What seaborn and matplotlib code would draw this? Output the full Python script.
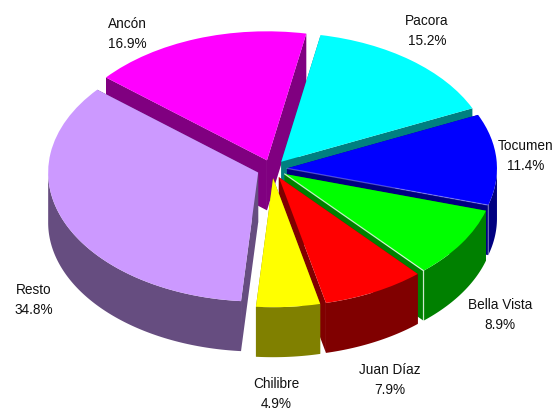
import numpy as np
import matplotlib
matplotlib.use("Agg")
import matplotlib.pyplot as plt
import seaborn as sns
from matplotlib.patches import Polygon

# DATA
names = ["Pacora", "Tocumen", "Bella Vista", "Juan Díaz", "Chilibre", "Resto", "Ancón"]
shares = [15.2, 11.4, 8.9, 7.9, 4.9, 34.8, 16.9]
top_hex = ["#00FFFF", "#0000FF", "#00FF00", "#FF0000", "#FFFF00", "#CC99FF", "#FF00FF"]

# back to front, later slices sit on top of earlier ones
draw_order = ["Ancón", "Pacora", "Resto", "Tocumen", "Bella Vista", "Juan Díaz", "Chilibre"]

# label positions in pixels: centre x, baseline of the name
label_px = {
    "Pacora": (427, 25), "Tocumen": (526, 150), "Bella Vista": (500, 309),
    "Juan Díaz": (390, 374), "Chilibre": (276, 388), "Resto": (34, 294), "Ancón": (127, 28),
}
LINE_GAP = 20

# pale highlight on the front corner of these slices
pale_edge = {"Bella Vista": 0.75, "Tocumen": 0.3}

W, H = 553, 411
CX, CY = 272, 169   # pie centre
RX, RY = 210, 129   # ellipse radii
DEPTH = 50 / RY     # wall height in y units

sns.set_theme(style="white")
plt.rcParams["font.family"] = ["Liberation Sans", "DejaVu Sans"]

palette = sns.color_palette(top_hex)
fig, ax = plt.subplots(figsize=(W / 100, H / 100), dpi=100)
ax.set_position([0, 0, 1, 1])

wedges, _ = ax.pie(shares, colors=palette, explode=[15 / RX] * len(shares),
                   startangle=79.2, counterclock=False, radius=1)
ax.set_aspect("auto")
ax.set_xlim(-CX / RX, (W - CX) / RX)
ax.set_ylim((CY - H) / RY, CY / RY)
ax.axis("off")


def add_poly(xs, ys, color, z):
    ax.add_patch(Polygon(np.column_stack([xs, ys]), closed=True, facecolor=color,
                         edgecolor="none", zorder=z))


for rank, name in enumerate(draw_order):
    i = names.index(name)
    w = wedges[i]
    side = tuple(np.array(palette[i]) * 0.5)
    z = 2 + rank * 3
    cx, cy = w.center

    # flat cut faces
    for a in (w.theta1, w.theta2):
        ex = cx + w.r * np.cos(np.radians(a))
        ey = cy + w.r * np.sin(np.radians(a))
        add_poly([cx, ex, ex, cx], [cy, ey, ey - DEPTH, cy - DEPTH], side, z)

    # outer wall, only the part facing the viewer
    th = np.radians(np.linspace(w.theta1, w.theta2, 300))
    th = th[np.sin(th) <= 0]
    if len(th):
        xs = cx + w.r * np.cos(th)
        ys = cy + w.r * np.sin(th)
        add_poly(np.r_[xs, xs[::-1]], np.r_[ys, ys[::-1] - DEPTH], side, z + 1)

    w.set_edgecolor("none")
    w.set_zorder(z + 2)

    if name in pale_edge:
        ex = cx + w.r * np.cos(np.radians(w.theta1))
        ey = cy + w.r * np.sin(np.radians(w.theta1))
        ax.plot([cx, ex, ex], [cy, ey, ey - DEPTH], color="white", alpha=pale_edge[name],
                lw=0.9, solid_joinstyle="miter", zorder=z + 2.5)

# labels
for name, share in zip(names, shares):
    px, py = label_px[name]
    for k, line in enumerate([name, f"{share:.1f}%"]):
        ax.text((px - CX) / RX, (CY - py - k * LINE_GAP) / RY, line, ha="center", va="baseline",
                fontsize=9.8, color="#111111", zorder=50, clip_on=True)

fig.savefig("out.png", dpi=100)
